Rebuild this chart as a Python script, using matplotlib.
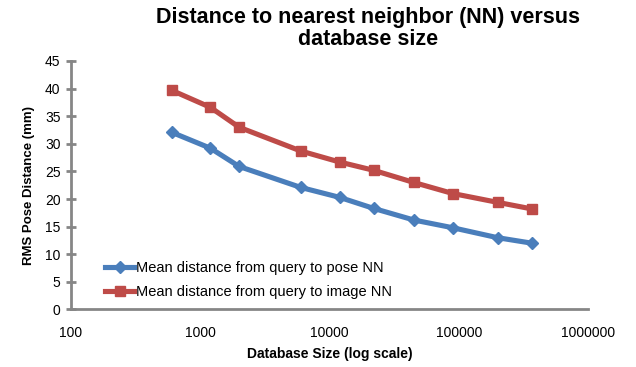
import matplotlib
matplotlib.use("Agg")
import matplotlib.pyplot as plt

plt.rcParams['font.family'] = ['Liberation Sans', 'DejaVu Sans']

db_size = [600, 1200, 2000, 6000, 12000, 22000, 45000, 90000, 200000, 370000]
pose_nn = [32.1, 29.2, 25.9, 22.1, 20.3, 18.3, 16.2, 14.8, 13.0, 12.0]
image_nn = [39.7, 36.6, 33.0, 28.7, 26.7, 25.2, 23.0, 21.0, 19.4, 18.2]

blue = '#4a7ebb'
red = '#be4b48'
grey = '#868686'

fig = plt.figure(figsize=(6.36, 3.67), dpi=100)
ax = fig.add_axes([0.1116, 0.1567, 0.8129, 0.6771])

ax.plot(db_size, pose_nn, color=blue, lw=3.7, marker='D', ms=6,
        label="Mean distance from query to pose NN")
ax.plot(db_size, image_nn, color=red, lw=3.7, marker='s', ms=6.5,
        label="Mean distance from query to image NN")

ax.set_xscale('log')
ax.set_xlim(100, 1000000)
ax.set_ylim(0, 45)
ax.set_yticks(range(0, 46, 5))
ax.set_xticks([100, 1000, 10000, 100000, 1000000])
ax.set_xticklabels(['100', '1000', '10000', '100000', '1000000'])
ax.minorticks_off()

for s in ['top', 'right']:
    ax.spines[s].set_visible(False)
for s in ['left', 'bottom']:
    ax.spines[s].set_color(grey)
    ax.spines[s].set_linewidth(2)

ax.tick_params(axis='y', direction='inout', length=7, width=2, color=grey,
               labelsize=10, pad=4)
ax.tick_params(axis='x', length=0, labelsize=10, pad=12)

ax.set_xlabel("Database Size (log scale)", fontsize=10, fontweight='bold', labelpad=5)
ax.set_ylabel("RMS Pose Distance (mm)", fontsize=9.5, fontweight='bold', labelpad=7)

fig.text(0.579, 0.98, "Distance to nearest neighbor (NN) versus\ndatabase size",
         ha='center', va='top', fontsize=15.5, fontweight='bold', linespacing=1.05)

ax.legend(loc='lower left', bbox_to_anchor=(0.055, 0.02), frameon=False,
          fontsize=10.5, handlelength=2.0, handletextpad=0.1, labelspacing=0.65,
          borderaxespad=0)

fig.savefig('out.png', dpi=100)
